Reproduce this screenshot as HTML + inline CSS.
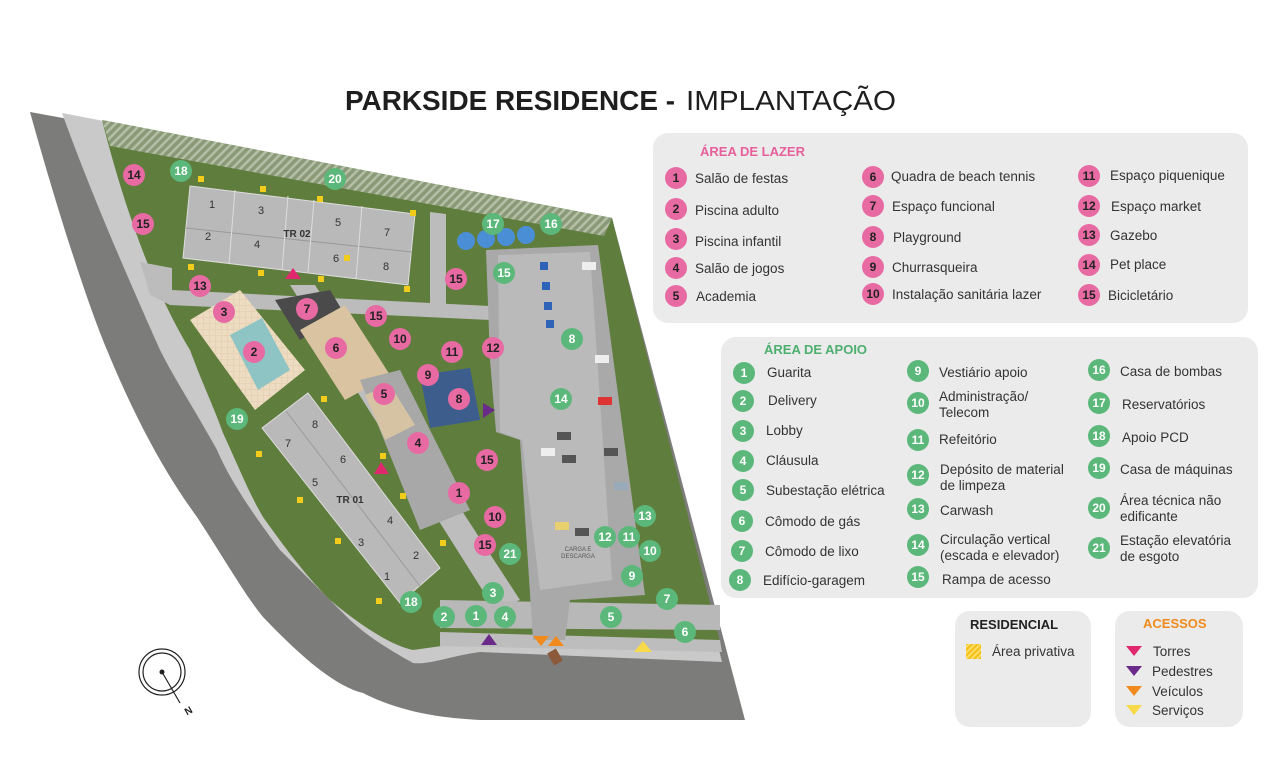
<!DOCTYPE html>
<html><head><meta charset="utf-8">
<style>
html,body{margin:0;padding:0;background:#fff;}
svg{display:block;font-family:"Liberation Sans",sans-serif;}
.t{font-size:13.5px;fill:#333;}
.n{font-size:12px;font-weight:bold;fill:#222;text-anchor:middle;}
.nw{font-size:12px;font-weight:bold;fill:#fff;text-anchor:middle;}
.b{font-size:11px;fill:#333;text-anchor:middle;}
</style></head>
<body>
<svg width="1278" height="767" viewBox="0 0 1278 767" xmlns="http://www.w3.org/2000/svg">
<defs>
<pattern id="h" width="6" height="6" patternUnits="userSpaceOnUse" patternTransform="rotate(45)">
<rect width="6" height="6" fill="#8a9a78"/><rect width="2.5" height="6" fill="#b4bfa6"/></pattern>
<pattern id="hy" width="4" height="4" patternUnits="userSpaceOnUse" patternTransform="rotate(45)">
<rect width="4" height="4" fill="#f6c21b"/><rect width="1.5" height="4" fill="#fbe27a"/></pattern>
<pattern id="tile" width="6" height="6" patternUnits="userSpaceOnUse">
<rect width="6" height="6" fill="#e6d2b4"/><rect width="5" height="5" fill="#eddcc2"/></pattern>
</defs>
<rect width="1278" height="767" fill="#fff"/>

<!-- title -->
<text x="345" y="110" font-size="28" font-weight="bold" fill="#1e1e1e" textLength="330" lengthAdjust="spacingAndGlyphs">PARKSIDE RESIDENCE -</text>
<text x="686" y="110" font-size="28" fill="#1e1e1e" textLength="210" lengthAdjust="spacingAndGlyphs">IMPLANTAÇÃO</text>

<!-- road -->
<path d="M30,112 L612,218 L745,720 L480,720 C440,718 400,712 363,693 C330,685 290,645 263,617 C245,595 225,560 197,517 C170,480 140,430 107,350 C90,310 60,220 30,112Z" fill="#7c7c7a"/>
<path d="M62,113 L612,218 L722,662 L480,652 C450,656 430,665 413,663 C380,645 360,630 347,617 C320,590 300,570 280,550 C250,510 230,480 217,450 C195,410 175,380 160,350 C120,260 90,190 62,113Z" fill="#c9c9c9"/>
<!-- green site -->
<path d="M102,120 L612,218 L722,650 L463,643 L413,650 C390,645 360,625 330,600 C310,580 290,555 263,517 C250,495 240,470 223,433 C215,410 205,390 190,350 C160,300 130,230 102,120Z" fill="#5f7d3c"/>
<path d="M102,120 L612,218 L604,236 L110,146Z" fill="url(#h)"/>
<!-- sidewalks -->
<path d="M440,632 L720,640 L722,652 L440,646Z" fill="#bdbdbd"/>
<path d="M140,262 L172,268 L172,290 L490,306 L490,320 L170,305 L150,295Z" fill="#bcbcbc"/>
<path d="M430,212 L446,214 L446,305 L430,305Z" fill="#bcbcbc"/>
<path d="M290,285 L315,285 L520,600 L495,610Z" fill="#bdbdbd"/>
<path d="M440,600 L720,605 L720,630 L440,628Z" fill="#b8b8b8"/>

<!-- TR02 -->
<path d="M190,186 L415,214 L408,285 L183,258Z" fill="#b9b9b9" stroke="#ddd" stroke-width="1"/>
<path d="M186,228 L412,252" stroke="#9a9a9a"/>
<path d="M235,190 L229,264 M288,196 L282,270 M314,200 L308,272 M362,206 L356,279" stroke="#ddd"/>
<text x="212" y="208" class="b">1</text><text x="261" y="214" class="b">3</text><text x="338" y="226" class="b">5</text><text x="387" y="236" class="b">7</text>
<text x="208" y="240" class="b">2</text><text x="257" y="248" class="b">4</text><text x="336" y="262" class="b">6</text><text x="386" y="270" class="b">8</text>
<text x="297" y="237" font-size="10" font-weight="bold" fill="#333" text-anchor="middle">TR 02</text>

<!-- TR01 -->
<path d="M262,428 L308,393 L440,568 L400,603Z" fill="#b9b9b9" stroke="#ddd"/>
<path d="M286,411 L420,586" stroke="#9a9a9a"/>
<text x="315" y="428" class="b">8</text><text x="288" y="447" class="b">7</text><text x="343" y="463" class="b">6</text><text x="315" y="486" class="b">5</text>
<text x="390" y="524" class="b">4</text><text x="361" y="546" class="b">3</text><text x="416" y="559" class="b">2</text><text x="387" y="580" class="b">1</text>
<text x="350" y="503" font-size="10" font-weight="bold" fill="#333" text-anchor="middle">TR 01</text>

<!-- pool area -->
<path d="M190,320 L240,290 L305,370 L255,410Z" fill="url(#tile)"/>
<path d="M230,335 L262,318 L290,370 L258,390Z" fill="#8fc4c4"/>
<!-- court 7 & 6 -->
<path d="M275,300 L330,290 L345,315 L300,340Z" fill="#4a4a4a"/>
<path d="M300,330 L345,305 L390,375 L345,400Z" fill="#d9c3a0"/>
<!-- leisure buildings -->
<path d="M360,380 L400,370 L470,510 L420,530Z" fill="#a8a8a8"/>
<path d="M365,395 L390,385 L415,425 L385,440Z" fill="#d5c3a4"/>
<!-- playground -->
<path d="M420,375 L470,368 L480,420 L430,428Z" fill="#3d5e8d"/>
<!-- water tanks -->
<circle cx="466" cy="241" r="9" fill="#4a8fd6"/><circle cx="486" cy="239" r="9" fill="#4a8fd6"/><circle cx="506" cy="237" r="9" fill="#4a8fd6"/><circle cx="526" cy="235" r="9" fill="#4a8fd6"/>

<!-- garage -->
<path d="M486,250 L598,245 L645,595 L570,600 L565,640 L533,640 L520,440 L496,432 L490,360Z" fill="#a9a9a9"/>
<path d="M498,255 L590,252 L612,580 L540,590 L522,440 L500,432Z" fill="#bababa"/>
<g fill="#2f63b8"><rect x="540" y="262" width="8" height="8"/><rect x="542" y="282" width="8" height="8"/><rect x="544" y="302" width="8" height="8"/><rect x="546" y="320" width="8" height="8"/></g>
<g fill="#555"><rect x="582" y="262" width="14" height="8" fill="#eee"/><rect x="595" y="355" width="14" height="8" fill="#eee"/><rect x="598" y="397" width="14" height="8" fill="#d33"/><rect x="557" y="432" width="14" height="8"/><rect x="541" y="448" width="14" height="8" fill="#eee"/><rect x="562" y="455" width="14" height="8"/><rect x="604" y="448" width="14" height="8"/><rect x="614" y="482" width="14" height="8" fill="#9ab"/><rect x="555" y="522" width="14" height="8" fill="#e8d070"/><rect x="575" y="528" width="14" height="8"/></g>
<text x="578" y="551" font-size="6" fill="#555" text-anchor="middle">CARGA E</text>
<text x="578" y="558" font-size="6" fill="#555" text-anchor="middle">DESCARGA</text>
<rect x="550" y="650" width="10" height="14" fill="#8a5a3a" transform="rotate(-30 555 657)"/>

<!-- yellow squares -->
<g fill="#f2cc1a"><rect x="198" y="176" width="6" height="6"/><rect x="260" y="186" width="6" height="6"/><rect x="317" y="196" width="6" height="6"/><rect x="410" y="210" width="6" height="6"/><rect x="188" y="264" width="6" height="6"/><rect x="258" y="270" width="6" height="6"/><rect x="318" y="276" width="6" height="6"/><rect x="344" y="255" width="6" height="6"/><rect x="404" y="286" width="6" height="6"/><rect x="321" y="396" width="6" height="6"/><rect x="256" y="451" width="6" height="6"/><rect x="380" y="453" width="6" height="6"/><rect x="297" y="497" width="6" height="6"/><rect x="400" y="493" width="6" height="6"/><rect x="335" y="538" width="6" height="6"/><rect x="440" y="540" width="6" height="6"/><rect x="376" y="598" width="6" height="6"/></g>

<!-- pink markers -->
<g fill="#e86aa3">
<circle cx="134" cy="175" r="11"/><circle cx="143" cy="224" r="11"/><circle cx="200" cy="286" r="11"/><circle cx="224" cy="312" r="11"/><circle cx="254" cy="352" r="11"/><circle cx="307" cy="309" r="11"/><circle cx="336" cy="348" r="11"/><circle cx="376" cy="316" r="11"/><circle cx="400" cy="339" r="11"/><circle cx="452" cy="352" r="11"/><circle cx="493" cy="348" r="11"/><circle cx="428" cy="375" r="11"/><circle cx="459" cy="399" r="11"/><circle cx="384" cy="394" r="11"/><circle cx="418" cy="443" r="11"/><circle cx="487" cy="460" r="11"/><circle cx="459" cy="493" r="11"/><circle cx="495" cy="517" r="11"/><circle cx="485" cy="545" r="11"/><circle cx="456" cy="279" r="11"/></g>
<text x="134" y="179" class="n">14</text><text x="143" y="228" class="n">15</text><text x="200" y="290" class="n">13</text><text x="224" y="316" class="n">3</text><text x="254" y="356" class="n">2</text><text x="307" y="313" class="n">7</text><text x="336" y="352" class="n">6</text><text x="376" y="320" class="n">15</text><text x="400" y="343" class="n">10</text><text x="452" y="356" class="n">11</text><text x="493" y="352" class="n">12</text><text x="428" y="379" class="n">9</text><text x="459" y="403" class="n">8</text><text x="384" y="398" class="n">5</text><text x="418" y="447" class="n">4</text><text x="487" y="464" class="n">15</text><text x="459" y="497" class="n">1</text><text x="495" y="521" class="n">10</text><text x="485" y="549" class="n">15</text><text x="456" y="283" class="n">15</text>

<!-- green markers -->
<g fill="#5cb87a">
<circle cx="181" cy="171" r="11"/><circle cx="335" cy="179" r="11"/><circle cx="493" cy="224" r="11"/><circle cx="551" cy="224" r="11"/><circle cx="504" cy="273" r="11"/><circle cx="572" cy="339" r="11"/><circle cx="237" cy="419" r="11"/><circle cx="561" cy="399" r="11"/><circle cx="645" cy="516" r="11"/><circle cx="605" cy="537" r="11"/><circle cx="629" cy="537" r="11"/><circle cx="650" cy="551" r="11"/><circle cx="632" cy="576" r="11"/><circle cx="510" cy="554" r="11"/><circle cx="493" cy="593" r="11"/><circle cx="411" cy="602" r="11"/><circle cx="444" cy="617" r="11"/><circle cx="476" cy="616" r="11"/><circle cx="505" cy="617" r="11"/><circle cx="611" cy="617" r="11"/><circle cx="667" cy="599" r="11"/><circle cx="685" cy="632" r="11"/></g>
<text x="181" y="175" class="nw">18</text><text x="335" y="183" class="nw">20</text><text x="493" y="228" class="nw">17</text><text x="551" y="228" class="nw">16</text><text x="504" y="277" class="nw">15</text><text x="572" y="343" class="nw">8</text><text x="237" y="423" class="nw">19</text><text x="561" y="403" class="nw">14</text><text x="645" y="520" class="nw">13</text><text x="605" y="541" class="nw">12</text><text x="629" y="541" class="nw">11</text><text x="650" y="555" class="nw">10</text><text x="632" y="580" class="nw">9</text><text x="510" y="558" class="nw">21</text><text x="493" y="597" class="nw">3</text><text x="411" y="606" class="nw">18</text><text x="444" y="621" class="nw">2</text><text x="476" y="620" class="nw">1</text><text x="505" y="621" class="nw">4</text><text x="611" y="621" class="nw">5</text><text x="667" y="603" class="nw">7</text><text x="685" y="636" class="nw">6</text>

<!-- access triangles -->
<path d="M285,279 L301,279 L293,268Z" fill="#e0286e"/>
<path d="M374,474 L389,474 L381,462Z" fill="#e0286e"/>
<path d="M483,403 L483,418 L495,410Z" fill="#6a2a8a"/>
<path d="M481,645 L497,645 L489,634Z" fill="#6a2a8a"/>
<path d="M533,636 L549,636 L541,646Z" fill="#f08a1c"/>
<path d="M548,646 L564,646 L556,636Z" fill="#f08a1c"/>
<path d="M634,652 L652,652 L643,641Z" fill="#f7d94a"/>

<!-- compass -->
<circle cx="162" cy="672" r="23" fill="none" stroke="#222" stroke-width="1.2"/>
<circle cx="162" cy="672" r="19" fill="none" stroke="#222" stroke-width="1.2"/>
<circle cx="162" cy="672" r="2.5" fill="#222"/>
<line x1="162" y1="672" x2="180" y2="703" stroke="#222" stroke-width="1.2"/>
<text x="185" y="716" font-size="10" font-weight="bold" fill="#222" transform="rotate(-30 185 712)">N</text>

<!-- Lazer panel -->
<rect x="653" y="133" width="595" height="190" rx="15" fill="#ebebeb"/>
<text x="700" y="156" font-size="13" font-weight="bold" fill="#e6609c">ÁREA DE LAZER</text>
<g fill="#e86aa3">
<circle cx="676" cy="178" r="11"/><circle cx="676" cy="209" r="11"/><circle cx="676" cy="239" r="11"/><circle cx="676" cy="268" r="11"/><circle cx="676" cy="296" r="11"/>
<circle cx="873" cy="177" r="11"/><circle cx="873" cy="206" r="11"/><circle cx="873" cy="237" r="11"/><circle cx="873" cy="267" r="11"/><circle cx="873" cy="294" r="11"/>
<circle cx="1089" cy="176" r="11"/><circle cx="1089" cy="206" r="11"/><circle cx="1089" cy="235" r="11"/><circle cx="1089" cy="265" r="11"/><circle cx="1089" cy="295" r="11"/></g>
<text x="676" y="182" class="n">1</text><text x="676" y="213" class="n">2</text><text x="676" y="243" class="n">3</text><text x="676" y="272" class="n">4</text><text x="676" y="300" class="n">5</text>
<text x="873" y="181" class="n">6</text><text x="873" y="210" class="n">7</text><text x="873" y="241" class="n">8</text><text x="873" y="271" class="n">9</text><text x="873" y="298" class="n">10</text>
<text x="1089" y="180" class="n">11</text><text x="1089" y="210" class="n">12</text><text x="1089" y="239" class="n">13</text><text x="1089" y="269" class="n">14</text><text x="1089" y="299" class="n">15</text>
<text x="695" y="183" class="t">Salão de festas</text><text x="695" y="215" class="t">Piscina adulto</text><text x="695" y="246" class="t">Piscina infantil</text><text x="695" y="273" class="t">Salão de jogos</text><text x="696" y="301" class="t">Academia</text>
<text x="891" y="181" class="t">Quadra de beach tennis</text><text x="892" y="211" class="t">Espaço funcional</text><text x="893" y="242" class="t">Playground</text><text x="892" y="272" class="t">Churrasqueira</text><text x="892" y="299" class="t">Instalação sanitária lazer</text>
<text x="1110" y="180" class="t">Espaço piquenique</text><text x="1111" y="211" class="t">Espaço market</text><text x="1110" y="240" class="t">Gazebo</text><text x="1110" y="269" class="t">Pet place</text><text x="1108" y="300" class="t">Bicicletário</text>

<!-- Apoio panel -->
<rect x="721" y="337" width="537" height="261" rx="15" fill="#ebebeb"/>
<text x="764" y="354" font-size="13" font-weight="bold" fill="#4caf6e">ÁREA DE APOIO</text>
<g fill="#5cb87a">
<circle cx="744" cy="373" r="11"/><circle cx="743" cy="401" r="11"/><circle cx="743" cy="431" r="11"/><circle cx="743" cy="461" r="11"/><circle cx="743" cy="490" r="11"/><circle cx="742" cy="521" r="11"/><circle cx="742" cy="551" r="11"/><circle cx="740" cy="580" r="11"/>
<circle cx="918" cy="371" r="11"/><circle cx="918" cy="403" r="11"/><circle cx="918" cy="440" r="11"/><circle cx="918" cy="475" r="11"/><circle cx="918" cy="509" r="11"/><circle cx="918" cy="545" r="11"/><circle cx="918" cy="577" r="11"/>
<circle cx="1099" cy="370" r="11"/><circle cx="1099" cy="403" r="11"/><circle cx="1099" cy="436" r="11"/><circle cx="1099" cy="468" r="11"/><circle cx="1099" cy="508" r="11"/><circle cx="1099" cy="548" r="11"/></g>
<text x="744" y="377" class="nw">1</text><text x="743" y="405" class="nw">2</text><text x="743" y="435" class="nw">3</text><text x="743" y="465" class="nw">4</text><text x="743" y="494" class="nw">5</text><text x="742" y="525" class="nw">6</text><text x="742" y="555" class="nw">7</text><text x="740" y="584" class="nw">8</text>
<text x="918" y="375" class="nw">9</text><text x="918" y="407" class="nw">10</text><text x="918" y="444" class="nw">11</text><text x="918" y="479" class="nw">12</text><text x="918" y="513" class="nw">13</text><text x="918" y="549" class="nw">14</text><text x="918" y="581" class="nw">15</text>
<text x="1099" y="374" class="nw">16</text><text x="1099" y="407" class="nw">17</text><text x="1099" y="440" class="nw">18</text><text x="1099" y="472" class="nw">19</text><text x="1099" y="512" class="nw">20</text><text x="1099" y="552" class="nw">21</text>
<text x="767" y="377" class="t">Guarita</text><text x="768" y="405" class="t">Delivery</text><text x="766" y="435" class="t">Lobby</text><text x="766" y="465" class="t">Cláusula</text><text x="766" y="495" class="t">Subestação elétrica</text><text x="765" y="526" class="t">Cômodo de gás</text><text x="765" y="556" class="t">Cômodo de lixo</text><text x="763" y="585" class="t">Edifício-garagem</text>
<text x="939" y="377" class="t">Vestiário apoio</text><text x="939" y="401" class="t">Administração/</text><text x="939" y="417" class="t">Telecom</text><text x="939" y="444" class="t">Refeitório</text><text x="940" y="474" class="t">Depósito de material</text><text x="940" y="490" class="t">de limpeza</text><text x="940" y="515" class="t">Carwash</text><text x="940" y="544" class="t">Circulação vertical</text><text x="940" y="560" class="t">(escada e elevador)</text><text x="942" y="584" class="t">Rampa de acesso</text>
<text x="1120" y="376" class="t">Casa de bombas</text><text x="1122" y="409" class="t">Reservatórios</text><text x="1122" y="442" class="t">Apoio PCD</text><text x="1120" y="474" class="t">Casa de máquinas</text><text x="1120" y="505" class="t">Área técnica não</text><text x="1120" y="521" class="t">edificante</text><text x="1120" y="545" class="t">Estação elevatória</text><text x="1120" y="561" class="t">de esgoto</text>

<!-- Residencial -->
<rect x="955" y="611" width="136" height="116" rx="15" fill="#ebebeb"/>
<text x="970" y="629" font-size="13" font-weight="bold" fill="#222">RESIDENCIAL</text>
<rect x="966" y="644" width="15" height="15" fill="url(#hy)"/>
<text x="992" y="656" class="t">Área privativa</text>

<!-- Acessos -->
<rect x="1115" y="611" width="128" height="116" rx="15" fill="#ebebeb"/>
<text x="1143" y="628" font-size="13" font-weight="bold" fill="#f08a1c">ACESSOS</text>
<path d="M1126,646 L1142,646 L1134,656Z" fill="#e0286e"/>
<path d="M1126,666 L1142,666 L1134,676Z" fill="#6a2a8a"/>
<path d="M1126,686 L1142,686 L1134,696Z" fill="#f08a1c"/>
<path d="M1126,705 L1142,705 L1134,715Z" fill="#f7d94a"/>
<text x="1153" y="656" class="t">Torres</text><text x="1152" y="676" class="t">Pedestres</text><text x="1152" y="696" class="t">Veículos</text><text x="1152" y="715" class="t">Serviços</text>
</svg>
</body></html>
